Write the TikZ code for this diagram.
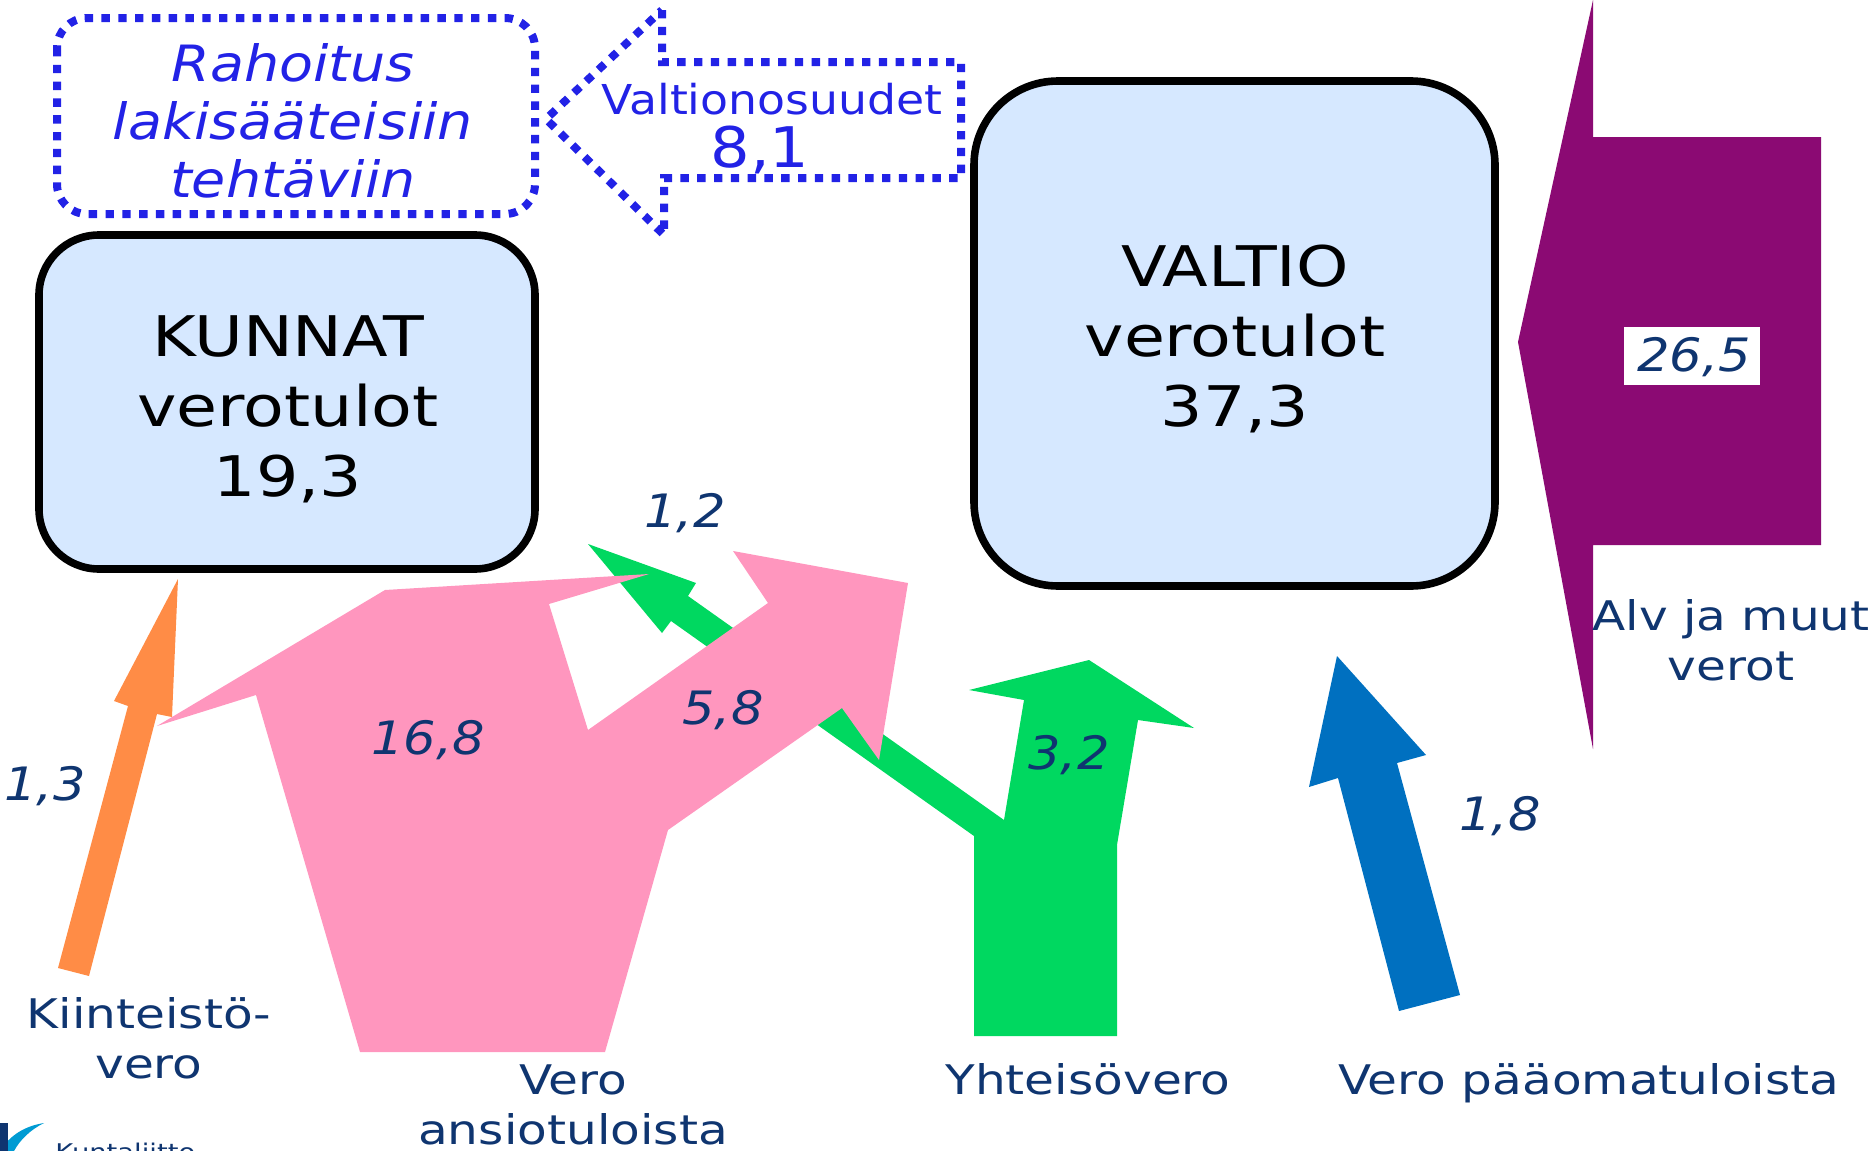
\documentclass[tikz,border=0pt]{standalone}
\usepackage{fontspec}
\setmainfont{DejaVu Sans}[FakeStretch=1.19]
\newfontfamily\midfont{DejaVu Sans}[FakeStretch=1.11]
\definecolor{navy}{HTML}{0F3570}
\definecolor{dblue}{HTML}{2222E6}
\definecolor{boxfill}{HTML}{D6E8FF}
\definecolor{pinkf}{HTML}{FF96BE}
\definecolor{greenf}{HTML}{00D860}
\definecolor{orangef}{HTML}{FF8C46}
\definecolor{bluef}{HTML}{0070C0}
\definecolor{purplef}{HTML}{8B0A73}
\tikzset{
  bigbox/.style={draw=black,fill=boxfill,line width=3.8pt},
  bigtext/.style={font=\fontsize{28}{35}\selectfont,align=center,text=black,inner sep=0pt},
  numlab/.style={font=\midfont\fontsize{23}{23}\selectfont\itshape,text=navy,inner sep=0pt},
  srclab/.style={font=\fontsize{20.4}{25}\selectfont,text=navy,align=center,inner sep=0pt},
  dotline/.style={draw=dblue,line width=4pt,dash pattern=on 4.2pt off 4.2pt},
  bluetext/.style={text=dblue,align=center,inner sep=0pt}
}
\begin{document}
\begin{tikzpicture}[x=0.5pt,y=-0.5pt]
\useasboundingbox (0,0) rectangle (1870,1151);
\clip (0,0) rectangle (1870,1151);
% dotted box and arrow
\draw[dotline,rounded corners=15pt] (57,18) rectangle (535,214);
\draw[dotline] (662,10) -- (662,62) -- (961,62) -- (961,178) -- (664,178) -- (664,235) -- (546,119) -- cycle;
\node[bluetext,font=\midfont\fontsize{25}{29}\selectfont\itshape] (rah) at (293,121) {Rahoitus\\lakisääteisiin\\tehtäviin};
\node[bluetext,font=\midfont\fontsize{20.6}{20}\selectfont] (vos) at (772,99) {Valtionosuudet};
\node[bluetext,font=\midfont\fontsize{28}{28}\selectfont] (vnum) at (760,150) {8,1};
% main boxes
\draw[bigbox,rounded corners=30pt] (39,235) rectangle (535,569);
\draw[bigbox,rounded corners=42pt] (974,81) rectangle (1495,586);
\node[bigtext] (kunnat) at (288,409) {KUNNAT\\verotulot\\19,3};
\node[bigtext] (valtio) at (1235,339) {VALTIO\\verotulot\\37,3};
% flow arrows
\fill[greenf] (974,1036) -- (1117,1036) -- (1117,845) -- (1138,720) -- (1194,728) -- (1089,660) -- (969,690) -- (1024,700) -- (1004,820) -- (688,596) -- (696,583) -- (588,544) -- (662,633) -- (671,621) -- (974,836) -- cycle;
\fill[pinkf] (360,1052) -- (605,1052) -- (668,830) -- (842,708) -- (879,760) -- (908,583) -- (733,551) -- (768,603) -- (588,730) -- (549,604) -- (649,574) -- (385,590) -- (157,726) -- (256,695) -- cycle;
\fill[orangef] (58,968) -- (89,976) -- (157,714) -- (172,717) -- (178,579) -- (114,701) -- (128,706) -- cycle;
\fill[bluef] (1399,1011) -- (1460,995) -- (1397,763) -- (1426,755) -- (1337,656) -- (1309,787) -- (1338,778) -- cycle;
\fill[purplef] (1518,342) -- (1593,0) -- (1593,137) -- (1821,137) -- (1821,545) -- (1593,545) -- (1593,749) -- cycle;
% value labels
\node[fill=white,minimum width=68pt,minimum height=29pt,inner sep=0pt] (vbg) at (1692,356) {};
\node[numlab] (n265) at (1694,357) {26,5};
\node[numlab] (n13) at (45,786) {1,3};
\node[numlab] (n12) at (685,513) {1,2};
\node[numlab] (n168) at (428,740) {16,8};
\node[numlab] (n58) at (723,710) {5,8};
\node[numlab] (n32) at (1069,755) {3,2};
\node[numlab] (n18) at (1500,816) {1,8};
% source labels
\node[srclab] (s1) at (149,1038) {Kiinteistö-\\vero};
\node[srclab] (s2) at (573,1105) {Vero\\ansiotuloista};
\node[srclab] (s3) at (1088,1079) {Yhteisövero};
\node[srclab] (s4) at (1589,1083) {Vero pääomatuloista};
\node[srclab] (s5) at (1731,640) {Alv ja muut\\verot};
% logo, cut off by the picture's edge
\fill[bluef!70!cyan] (0,1151) .. controls (10,1135) and (25,1126) .. (44,1123) .. controls (30,1130) and (20,1140) .. (14,1151) -- cycle;
\fill[navy] (0,1123) rectangle (8,1151);
\node[anchor=base west,inner sep=0pt,text=navy,font=\fontsize{11.5}{12}\selectfont] (logo) at (55,1160) {Kuntaliitto};
\end{tikzpicture}
\end{document}
